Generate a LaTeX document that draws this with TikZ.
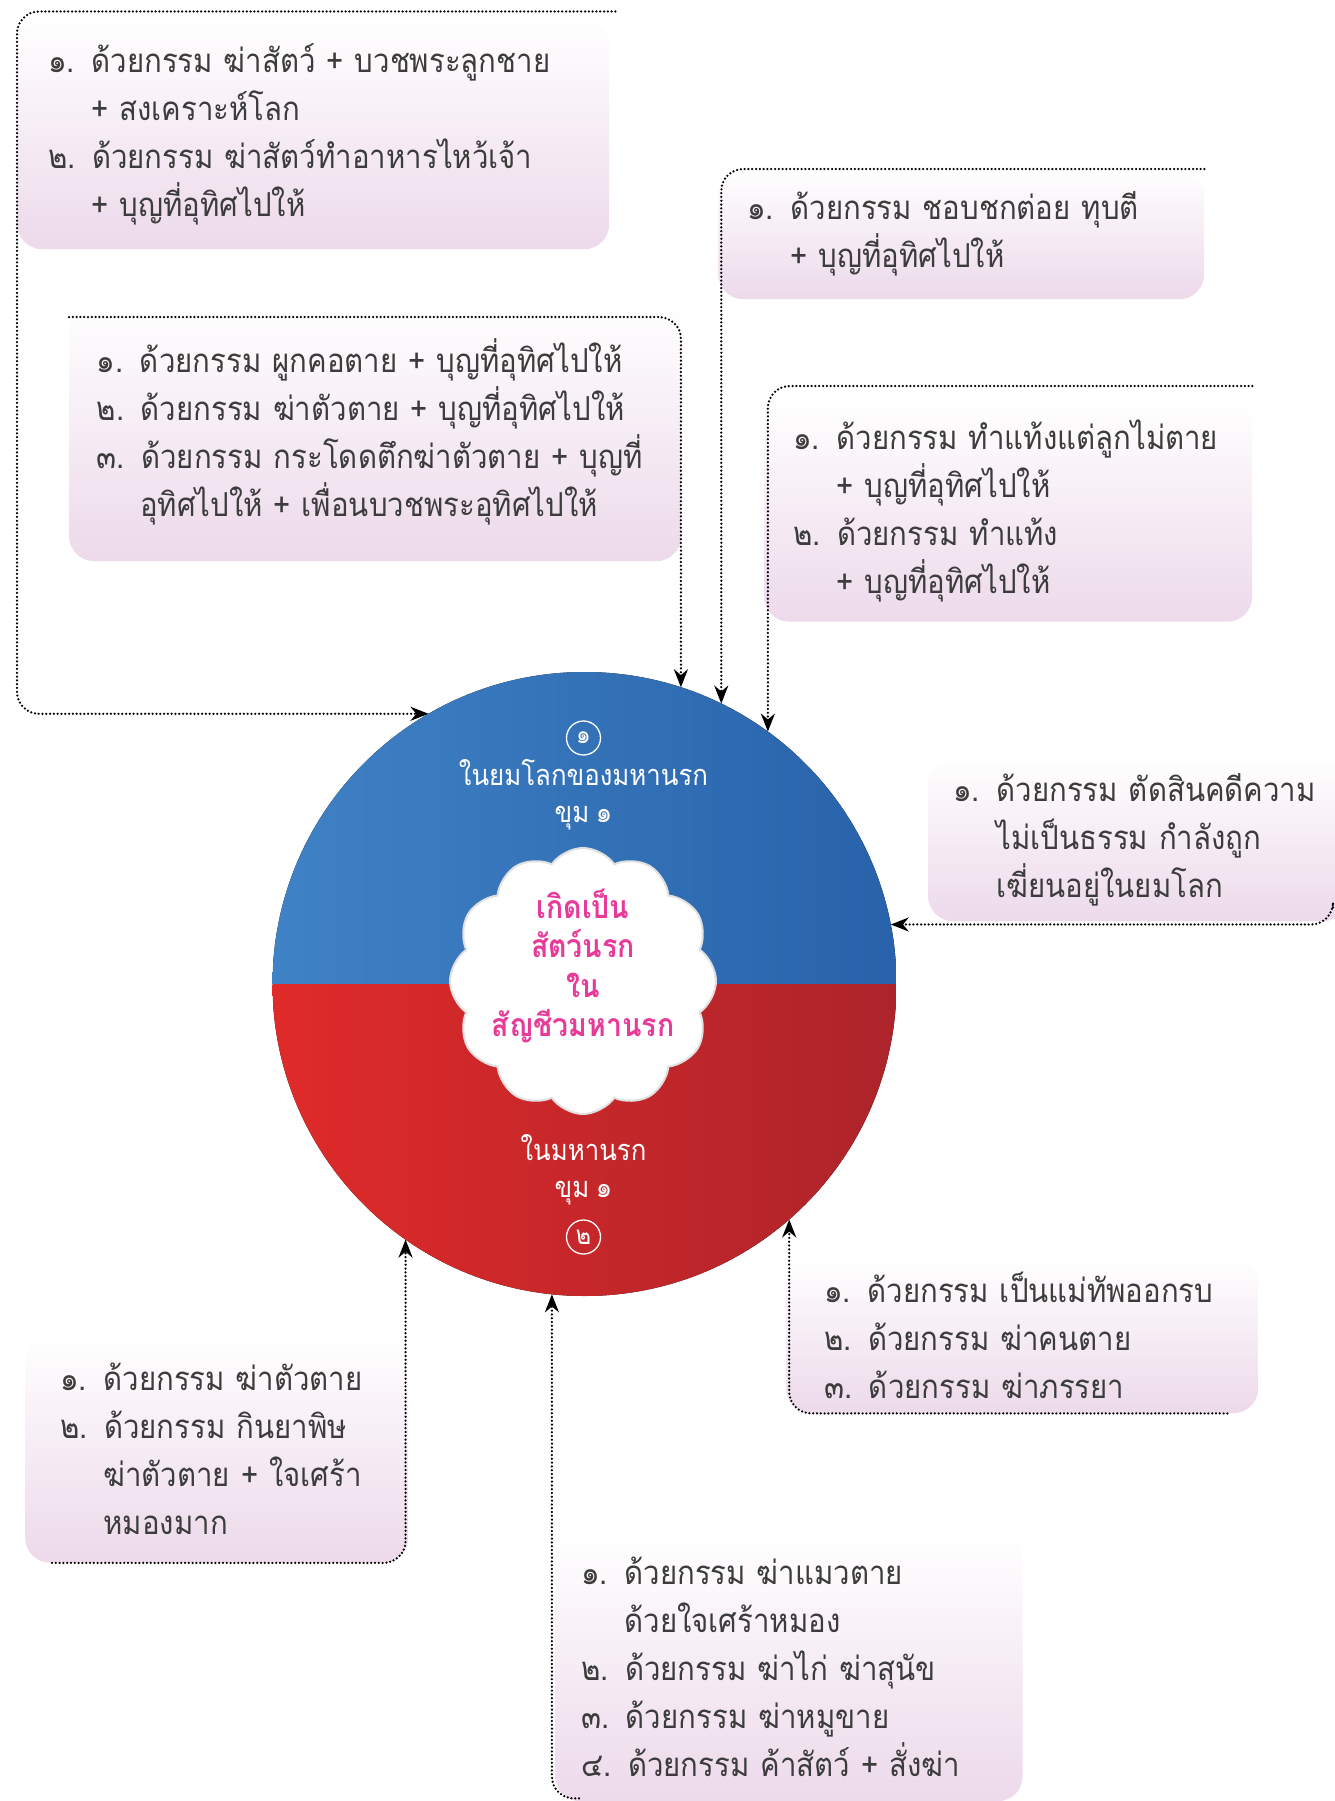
\documentclass[tikz,border=0pt]{standalone}
\usepackage{fontspec}
\setmainfont{Loma}[Script=Thai, FakeStretch=0.89, WordSpace=0.75]
\usetikzlibrary{arrows.meta,shapes.symbols}

\definecolor{boxbot}{RGB}{228,200,225}
\definecolor{bluel}{RGB}{64,130,198}
\definecolor{bluer}{RGB}{40,98,170}
\definecolor{redl}{RGB}{224,42,42}
\definecolor{redr}{RGB}{172,36,42}
\definecolor{pinktext}{RGB}{232,58,152}
\definecolor{inkgray}{RGB}{60,60,60}
\pgfdeclareverticalshading{boxfade}{100bp}{color(0bp)=(boxbot); color(35bp)=(boxbot!55!white); color(75bp)=(white); color(100bp)=(white)}

\newcommand\gap{\hphantom{๑. }}

\tikzset{
  cbox/.style={shading=boxfade, rounded corners=25pt, align=left, anchor=north west,
    font=\fontsize{33}{48}\selectfont, text=inkgray, inner ysep=0pt},
  conn/.style={line width=2.5pt, line cap=round, dash pattern=on 0pt off 3.8pt,
    rounded corners=22pt, -{Stealth[length=18pt,width=14pt]}},
  ctext/.style={text=white, align=center, font=\fontsize{29}{37}\selectfont},
  numring/.style={circle, draw=white, line width=1.3pt, text=white, inner sep=2pt,
    minimum size=34pt, font=\fontsize{26}{26}\selectfont}
}

\begin{document}
\begin{tikzpicture}[x=1pt, y=-1pt]
    \useasboundingbox (0,0) rectangle (1335,1801);

    % boxes
    \node[cbox, minimum width=592pt, minimum height=230.5pt, text width=530pt, inner xsep=31pt] (b1) at (17,18.5)
        {๑. ด้วยกรรม ฆ่าสัตว์ + บวชพระลูกชาย\\\gap+ สงเคราะห์โลก\\๒. ด้วยกรรม ฆ่าสัตว์ทำอาหารไหว้เจ้า\\\gap+ บุญที่อุทิศไปให้};
    \node[cbox, minimum width=612pt, minimum height=259pt, text width=557pt, inner xsep=27.5pt] (b2) at (69,302)
        {๑. ด้วยกรรม ผูกคอตาย + บุญที่อุทิศไปให้\\๒. ด้วยกรรม ฆ่าตัวตาย + บุญที่อุทิศไปให้\\๓. ด้วยกรรม กระโดดตึกฆ่าตัวตาย + บุญที่\\\gap อุทิศไปให้ + เพื่อนบวชพระอุทิศไปให้};
    \node[cbox, minimum width=486pt, minimum height=130pt, text width=428pt, inner xsep=29pt] (b3) at (718,169)
        {๑. ด้วยกรรม ชอบชกต่อย ทุบตี\\\gap+ บุญที่อุทิศไปให้};
    \node[cbox, minimum width=488pt, minimum height=221.5pt, text width=430pt, inner xsep=29pt] (b4) at (764,400)
        {๑. ด้วยกรรม ทำแท้งแต่ลูกไม่ตาย\\\gap+ บุญที่อุทิศไปให้\\๒. ด้วยกรรม ทำแท้ง\\\gap+ บุญที่อุทิศไปให้};
    \node[cbox, minimum width=420pt, minimum height=163pt, text width=370pt, inner xsep=25pt] (b5) at (928,758)
        {๑. ด้วยกรรม ตัดสินคดีความ\\\gap ไม่เป็นธรรม กำลังถูก\\\gap เฆี่ยนอยู่ในยมโลก};
    \node[cbox, minimum width=472pt, minimum height=155pt, text width=396pt, inner xsep=38pt] (b6) at (786,1258)
        {๑. ด้วยกรรม เป็นแม่ทัพออกรบ\\๒. ด้วยกรรม ฆ่าคนตาย\\๓. ด้วยกรรม ฆ่าภรรยา};
    \node[cbox, minimum width=383pt, minimum height=228.5pt, text width=313pt, inner xsep=35pt] (b7) at (25,1334)
        {๑. ด้วยกรรม ฆ่าตัวตาย\\๒. ด้วยกรรม กินยาพิษ\\\gap ฆ่าตัวตาย + ใจเศร้า\\\gap หมองมาก};
    \node[cbox, minimum width=467.5pt, minimum height=268pt, text width=415.5pt, inner xsep=26pt] (b8) at (555,1533)
        {๑. ด้วยกรรม ฆ่าแมวตาย\\\gap ด้วยใจเศร้าหมอง\\๒. ด้วยกรรม ฆ่าไก่ ฆ่าสุนัข\\๓. ด้วยกรรม ฆ่าหมูขาย\\๔. ด้วยกรรม ค้าสัตว์ + สั่งฆ่า};

    % the two halves
    \node[circle, minimum size=624pt, inner sep=0pt, outer sep=0pt] (circ) at (584.5,984) {};
    \begin{scope}
        \clip (circ.center) circle[radius=312pt];
        \fill[left color=bluel, right color=bluer] (circ.west |- circ.north) rectangle (circ.east);
        \fill[left color=redl, right color=redr] (circ.west) rectangle (circ.east |- circ.south);
    \end{scope}
    \node[cloud, cloud puffs=12, cloud puff arc=110, aspect=1, fill=white, draw=black!12, line width=2pt,
        minimum width=266pt, minimum height=266pt, inner sep=0pt] (cl) at (583,981) {};

    % texts in the circle
    \node[numring] (n1) at (583.5,738) {๑};
    \node[ctext] (t1) at (583.5,795) {ในยมโลกของมหานรก\\ขุม ๑};
    \node[text=pinktext, align=center, font=\fontsize{32}{39.5}\selectfont\bfseries] (ct) at (583,966)
        {เกิดเป็น\\สัตว์นรก\\ใน\\สัญชีวมหานรก};
    \node[ctext] (t2) at (583.5,1170) {ในมหานรก\\ขุม ๑};
    \node[numring] (n2) at (583.5,1237) {๒};

    % connectors
    \draw[conn] ([xshift=6pt,yshift=7pt]b1.north east) -- ([yshift=7pt]b1.north west) |- (circ.120);
    \draw[conn] ([yshift=-15pt]b2.north west) -| (circ.72);
    \draw[conn] (b3.north east) -| (circ.64.7);
    \draw[conn] ([yshift=14pt]b4.north east) -| (circ.54.9);
    \draw[conn] ([xshift=405pt,yshift=14pt]b5.south west) |- (circ.11.6);
    \draw[conn] ([xshift=-31pt]b6.south east) -| (circ.-49.8);
    \draw[conn] ([xshift=27pt]b7.south west) -| (circ.235.5);
    \draw[conn] ([xshift=24pt,yshift=3pt]b8.south west) -| (circ.264.1);
\end{tikzpicture}
\end{document}
